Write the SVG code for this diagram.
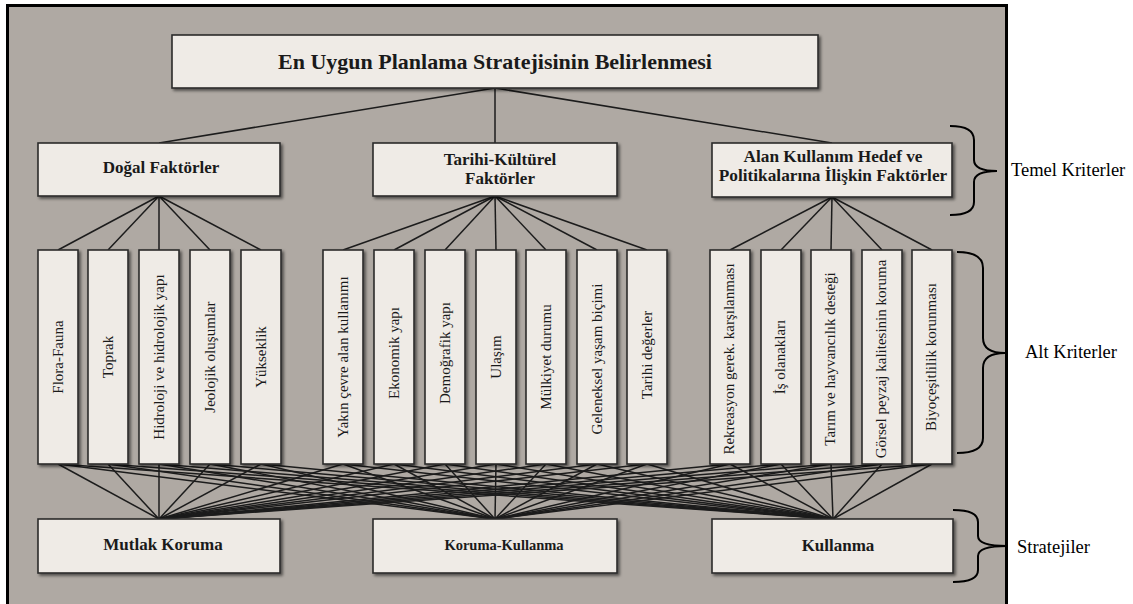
<svg xmlns="http://www.w3.org/2000/svg" width="1133" height="604" viewBox="0 0 1133 604">
<defs>
<filter id="sh" x="-20%" y="-20%" width="140%" height="140%">
<feDropShadow dx="2" dy="2" stdDeviation="1.6" flood-color="#000" flood-opacity="0.55"/>
</filter>
<style>
.box{fill:#efebe6;stroke:#2b2b2b;stroke-width:1.6;filter:url(#sh)}
.b{font-family:"Liberation Serif","Times New Roman",serif;font-weight:bold;fill:#1a1a1a;text-anchor:middle}
.v{font-family:"Liberation Serif","Times New Roman",serif;font-size:15px;fill:#1a1a1a;text-anchor:middle;dominant-baseline:central}
.lab{font-family:"Liberation Serif","Times New Roman",serif;font-size:18.5px;fill:#000}
.c line{stroke:#1c1c1c;stroke-width:1.5}
.br{fill:none;stroke:#000;stroke-width:2}
</style>
</defs>
<rect x="0" y="0" width="1133" height="604" fill="#fff"/>
<rect x="7.5" y="5.5" width="999" height="620" fill="#afa9a3" stroke="#000" stroke-width="3"/>

<g id="connectors" class="c">
<line x1="495" y1="88" x2="159" y2="143"/>
<line x1="495" y1="88" x2="495" y2="143"/>
<line x1="495" y1="88" x2="832" y2="143"/>

<line x1="159" y1="196" x2="58" y2="250"/>
<line x1="159" y1="196" x2="108" y2="250"/>
<line x1="159" y1="196" x2="159" y2="250"/>
<line x1="159" y1="196" x2="210" y2="250"/>
<line x1="159" y1="196" x2="261" y2="250"/>

<line x1="495" y1="196" x2="343" y2="250"/>
<line x1="495" y1="196" x2="394" y2="250"/>
<line x1="495" y1="196" x2="445" y2="250"/>
<line x1="495" y1="196" x2="496" y2="250"/>
<line x1="495" y1="196" x2="546" y2="250"/>
<line x1="495" y1="196" x2="597" y2="250"/>
<line x1="495" y1="196" x2="647" y2="250"/>

<line x1="832" y1="197" x2="730" y2="250"/>
<line x1="832" y1="197" x2="781" y2="250"/>
<line x1="832" y1="197" x2="831" y2="250"/>
<line x1="832" y1="197" x2="882" y2="250"/>
<line x1="832" y1="197" x2="932" y2="250"/>

<line x1="58" y1="464" x2="159" y2="519"/><line x1="58" y1="464" x2="495" y2="519"/><line x1="58" y1="464" x2="833" y2="519"/>
<line x1="108" y1="464" x2="159" y2="519"/><line x1="108" y1="464" x2="495" y2="519"/><line x1="108" y1="464" x2="833" y2="519"/>
<line x1="159" y1="464" x2="159" y2="519"/><line x1="159" y1="464" x2="495" y2="519"/><line x1="159" y1="464" x2="833" y2="519"/>
<line x1="210" y1="464" x2="159" y2="519"/><line x1="210" y1="464" x2="495" y2="519"/><line x1="210" y1="464" x2="833" y2="519"/>
<line x1="261" y1="464" x2="159" y2="519"/><line x1="261" y1="464" x2="495" y2="519"/><line x1="261" y1="464" x2="833" y2="519"/>
<line x1="343" y1="464" x2="159" y2="519"/><line x1="343" y1="464" x2="495" y2="519"/><line x1="343" y1="464" x2="833" y2="519"/>
<line x1="394" y1="464" x2="159" y2="519"/><line x1="394" y1="464" x2="495" y2="519"/><line x1="394" y1="464" x2="833" y2="519"/>
<line x1="445" y1="464" x2="159" y2="519"/><line x1="445" y1="464" x2="495" y2="519"/><line x1="445" y1="464" x2="833" y2="519"/>
<line x1="496" y1="464" x2="159" y2="519"/><line x1="496" y1="464" x2="495" y2="519"/><line x1="496" y1="464" x2="833" y2="519"/>
<line x1="546" y1="464" x2="159" y2="519"/><line x1="546" y1="464" x2="495" y2="519"/><line x1="546" y1="464" x2="833" y2="519"/>
<line x1="597" y1="464" x2="159" y2="519"/><line x1="597" y1="464" x2="495" y2="519"/><line x1="597" y1="464" x2="833" y2="519"/>
<line x1="647" y1="464" x2="159" y2="519"/><line x1="647" y1="464" x2="495" y2="519"/><line x1="647" y1="464" x2="833" y2="519"/>
<line x1="730" y1="464" x2="159" y2="519"/><line x1="730" y1="464" x2="495" y2="519"/><line x1="730" y1="464" x2="833" y2="519"/>
<line x1="781" y1="464" x2="159" y2="519"/><line x1="781" y1="464" x2="495" y2="519"/><line x1="781" y1="464" x2="833" y2="519"/>
<line x1="831" y1="464" x2="159" y2="519"/><line x1="831" y1="464" x2="495" y2="519"/><line x1="831" y1="464" x2="833" y2="519"/>
<line x1="882" y1="464" x2="159" y2="519"/><line x1="882" y1="464" x2="495" y2="519"/><line x1="882" y1="464" x2="833" y2="519"/>
<line x1="932" y1="464" x2="159" y2="519"/><line x1="932" y1="464" x2="495" y2="519"/><line x1="932" y1="464" x2="833" y2="519"/>
</g>

<g id="goal"><rect class="box" x="172" y="35" width="646" height="53"/><text class="b" x="495" y="69" font-size="22">En Uygun Planlama Stratejisinin Belirlenmesi</text></g>

<g id="dogal"><rect class="box" x="38" y="143" width="242" height="53"/><text class="b" x="161" y="173" font-size="17">Doğal Faktörler</text></g>
<g id="tarihi"><rect class="box" x="373" y="143" width="244" height="53"/><text class="b" x="500" y="165" font-size="17">Tarihi-Kültürel</text><text class="b" x="500" y="184" font-size="17">Faktörler</text></g>
<g id="alan"><rect class="box" x="712" y="143" width="240" height="54"/><text class="b" x="833" y="162" font-size="17.3">Alan Kullanım Hedef ve</text><text class="b" x="833" y="181" font-size="17.3">Politikalarına İlişkin Faktörler</text></g>

<g id="s1"><rect class="box" x="38" y="250" width="40" height="214"/><text class="v" transform="translate(58,357) rotate(-90)">Flora-Fauna</text></g>
<g id="s2"><rect class="box" x="88" y="250" width="40" height="214"/><text class="v" transform="translate(108,357) rotate(-90)">Toprak</text></g>
<g id="s3"><rect class="box" x="139" y="250" width="40" height="214"/><text class="v" transform="translate(159,357) rotate(-90)">Hidroloji ve hidrolojik yapı</text></g>
<g id="s4"><rect class="box" x="190" y="250" width="40" height="214"/><text class="v" transform="translate(210,357) rotate(-90)">Jeolojik oluşumlar</text></g>
<g id="s5"><rect class="box" x="241" y="250" width="40" height="214"/><text class="v" transform="translate(261,357) rotate(-90)">Yükseklik</text></g>

<g id="s6"><rect class="box" x="323" y="250" width="40" height="214"/><text class="v" transform="translate(343,357) rotate(-90)">Yakın çevre alan kullanımı</text></g>
<g id="s7"><rect class="box" x="374" y="250" width="40" height="214"/><text class="v" transform="translate(394,353) rotate(-90)">Ekonomik yapı</text></g>
<g id="s8"><rect class="box" x="425" y="250" width="40" height="214"/><text class="v" transform="translate(445,353) rotate(-90)">Demoğrafik yapı</text></g>
<g id="s9"><rect class="box" x="476" y="250" width="40" height="214"/><text class="v" transform="translate(496,357) rotate(-90)">Ulaşım</text></g>
<g id="s10"><rect class="box" x="526" y="250" width="40" height="214"/><text class="v" transform="translate(546,357) rotate(-90)">Mülkiyet durumu</text></g>
<g id="s11"><rect class="box" x="577" y="250" width="40" height="214"/><text class="v" transform="translate(597,359) rotate(-90)">Geleneksel yaşam biçimi</text></g>
<g id="s12"><rect class="box" x="627" y="250" width="40" height="214"/><text class="v" transform="translate(647,355) rotate(-90)">Tarihi değerler</text></g>

<g id="s13"><rect class="box" x="710" y="250" width="40" height="214"/><text class="v" transform="translate(729,359) rotate(-90)">Rekreasyon gerek. karşılanması</text></g>
<g id="s14"><rect class="box" x="761" y="250" width="40" height="214"/><text class="v" transform="translate(780,357) rotate(-90)">İş olanakları</text></g>
<g id="s15"><rect class="box" x="811" y="250" width="40" height="214"/><text class="v" transform="translate(830,359) rotate(-90)">Tarım ve hayvancılık desteği</text></g>
<g id="s16"><rect class="box" x="862" y="250" width="40" height="214"/><text class="v" transform="translate(881,359) rotate(-90)">Görsel peyzaj kalitesinin koruma</text></g>
<g id="s17"><rect class="box" x="912" y="250" width="40" height="214"/><text class="v" transform="translate(931,357) rotate(-90)">Biyoçeşitlilik korunması</text></g>

<g id="mutlak"><rect class="box" x="38" y="519" width="242" height="54"/><text class="b" x="163" y="550" font-size="17">Mutlak Koruma</text></g>
<g id="korumakullanma"><rect class="box" x="373" y="519" width="244" height="54"/><text class="b" x="504" y="550" font-size="14.5">Koruma-Kullanma</text></g>
<g id="kullanma"><rect class="box" x="712" y="519" width="241" height="54"/><text class="b" x="838" y="551" font-size="17">Kullanma</text></g>

<g id="temel-brace"><path class="br" d="M950 126 Q974 126 974 140 L974 160 Q974 171 997 171 Q974 171 974 182 L974 202 Q974 215 950 215"/><text class="lab" x="1011" y="176" font-size="19.3">Temel Kriterler</text></g>
<g id="alt-brace"><path class="br" d="M957 252 Q983 252 983 268 L983 338 Q983 353 1005 353 Q983 353 983 368 L983 438 Q983 453 957 453"/><text class="lab" x="1025" y="358">Alt Kriterler</text></g>
<g id="strateji-brace"><path class="br" d="M953 510 Q978 510 978 522 L978 536 Q978 546 1007 546 Q978 546 978 556 L978 570 Q978 582 953 582"/><text class="lab" x="1017" y="553">Stratejiler</text></g>
</svg>
